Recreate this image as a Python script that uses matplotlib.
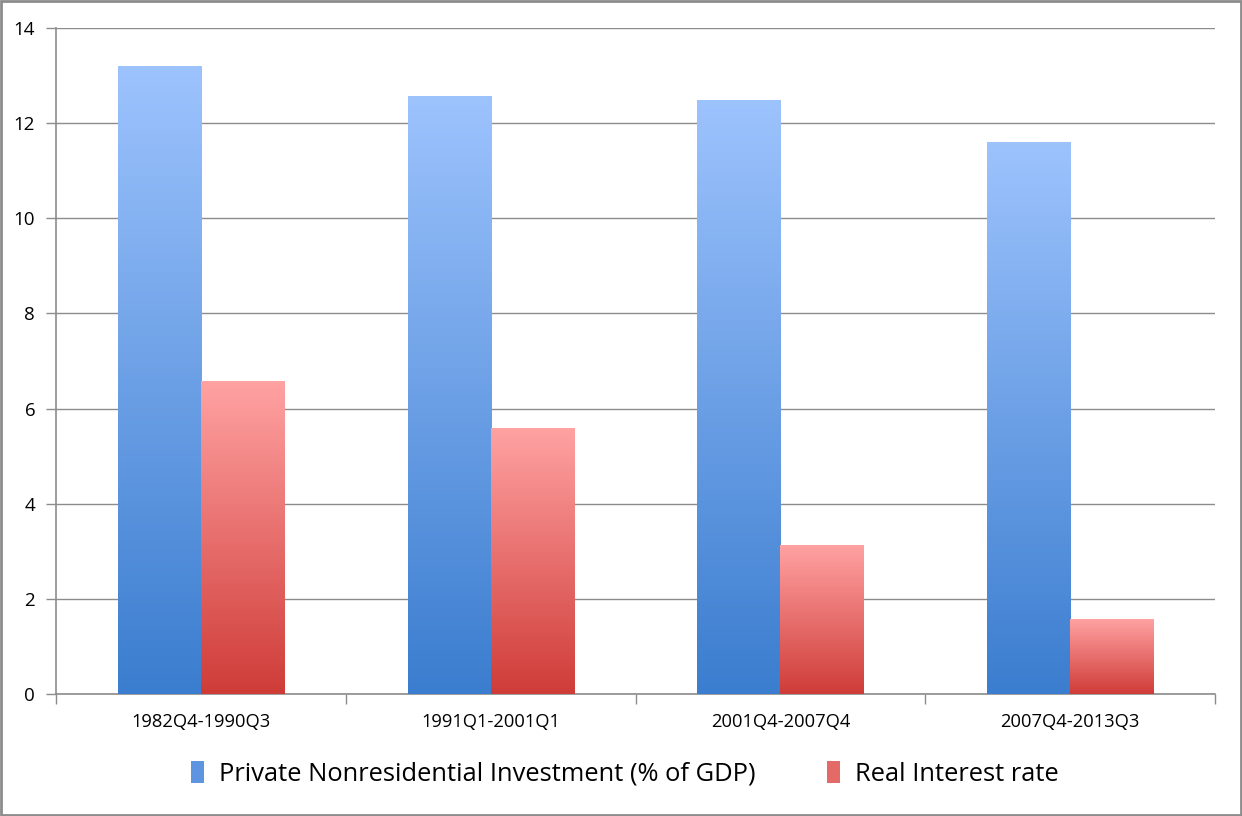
import matplotlib
matplotlib.use("Agg")
import matplotlib.pyplot as plt
import numpy as np
from matplotlib.colors import LinearSegmentedColormap
from matplotlib.patches import Rectangle

categories = ["1982Q4-1990Q3", "1991Q1-2001Q1", "2001Q4-2007Q4", "2007Q4-2013Q3"]
investment = [13.2, 12.57, 12.47, 11.6]
real_rate = [6.56, 5.59, 3.13, 1.56]
series_names = ["Private Nonresidential Investment (% of GDP)", "Real Interest rate"]
yticks = [0, 2, 4, 6, 8, 10, 12, 14]

plt.rcParams['font.family'] = ['Open Sans', 'DejaVu Sans']

fig = plt.figure(figsize=(12.42, 8.16), dpi=100)
ax = fig.add_axes([56/1242, 1-694/816, (1215-56)/1242, (694-28)/816])

blue_cmap = LinearSegmentedColormap.from_list("b", ["#3b7dcf", "#9dc3fd"])
red_cmap = LinearSegmentedColormap.from_list("r", ["#cf3c38", "#ffa2a2"])

w = 0.2865
x = np.arange(len(categories))
ymax = 14

def grad_bars_rel(xs, vals, cmap):
    bars = ax.bar(xs, vals, width=w, color="none", edgecolor="none", zorder=3)
    grad = np.linspace(0, 1, 256).reshape(-1, 1)
    for b in bars:
        bx, bw, bh = b.get_x(), b.get_width(), b.get_height()
        ax.imshow(grad, extent=[bx, bx + bw, 0, bh], origin="lower",
                  cmap=cmap, aspect="auto", zorder=3, vmin=0, vmax=1)
    return bars

grad_bars_rel(x - w/2, investment, blue_cmap)
grad_bars_rel(x + w/2, real_rate, red_cmap)

ax.set_xlim(-0.5, len(categories) - 0.5)
ax.set_ylim(0, ymax)
ax.set_yticks(yticks)
ax.set_yticklabels([str(t) for t in yticks], fontsize=13.5)
ax.yaxis.grid(True, color="#8c8c8c", linewidth=1.0, zorder=0)
ax.set_axisbelow(True)

ax.set_xticks(np.arange(-0.5, len(categories) + 0.5, 1.0))
ax.set_xticklabels([])
ax.set_xticks(x, minor=True)
ax.set_xticklabels(categories, minor=True, fontsize=13.2)
ax.tick_params(axis="x", which="minor", length=0, pad=14)
ax.tick_params(axis="x", which="major", length=7, color="#8c8c8c", width=1)
ax.tick_params(axis="y", length=7, color="#8c8c8c", width=1, pad=8)

for s in ["top", "right"]:
    ax.spines[s].set_visible(False)
for s in ["left", "bottom"]:
    ax.spines[s].set_color("#8c8c8c")
    ax.spines[s].set_linewidth(1.2)

handles = [Rectangle((0, 0), 1, 1, facecolor="#5f95e0", edgecolor="none"),
           Rectangle((0, 0), 1, 1, facecolor="#e46a68", edgecolor="none")]
fig.legend(handles, series_names, loc="center", bbox_to_anchor=(625/1242, 1-774/816),
           ncol=2, frameon=False, fontsize=18.4, handlelength=0.5, handleheight=0.9,
           handletextpad=0.6, columnspacing=2.8)

# outer frame
fig.patches.append(Rectangle((0.001, 0.001), 0.998, 0.998, transform=fig.transFigure,
                             fill=False, edgecolor="#8c8c8c", linewidth=2))

fig.savefig("out.png", dpi=100)
